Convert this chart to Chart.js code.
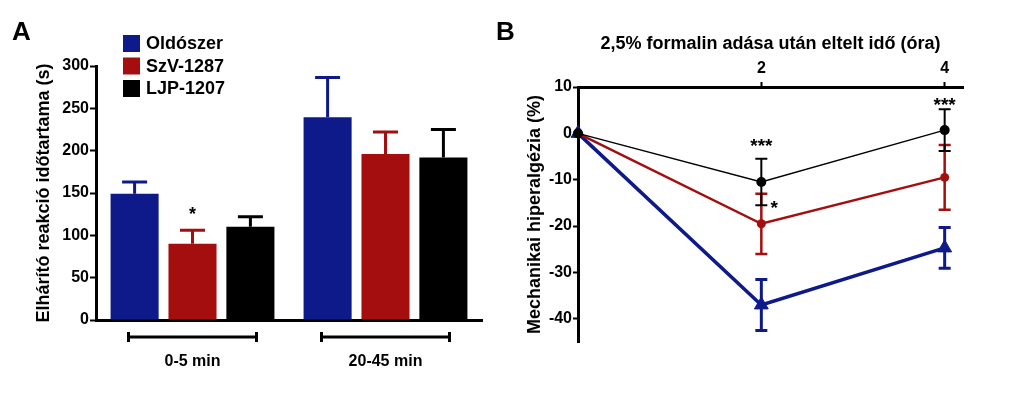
<!DOCTYPE html>
<html>
<head>
<meta charset="utf-8">
<script src="https://cdn.jsdelivr.net/npm/chart.js@4.4.1/dist/chart.umd.min.js"></script>
<style>
  html, body { margin: 0; padding: 0; background: #fff; }
  #wrap { position: relative; width: 1023px; height: 393px; }
  #chartA { position: absolute; left: 0; top: 0; }
  #chartB { position: absolute; left: 490px; top: 0; }
</style>
</head>
<body>
<div id="wrap">
  <canvas id="chartA" width="490" height="393"></canvas>
  <canvas id="chartB" width="533" height="393"></canvas>
</div>
<script>
// --- panel A: defensive reaction time (s), mean + SEM
const groupLabels = ["0-5 min", "20-45 min"];
const seriesNames = ["Oldószer", "SzV-1287", "LJP-1207"];
const seriesColors = ["#0e1a8a", "#a40e0e", "#000000"];
const oldoszerA = [149, 239.5];
const szvA = [90, 196];
const ljpA = [110, 192];
const oldoszerErrA = [14, 47];
const szvErrA = [16, 26];
const ljpErrA = [12, 33];
const oldoszerStarsA = ["", ""];
const szvStarsA = ["*", ""];
const ljpStarsA = ["", ""];
const yTicksA = [0, 50, 100, 150, 200, 250, 300];

// --- panel B: mechanical hyperalgesia (%) over time (h)
const hoursB = [0, 2, 4];
const oldoszerB = [0, -37, -24.7];
const szvB = [0, -19.5, -9.5];
const ljpB = [0, -10.5, 0.7];
const oldoszerErrB = [0, 5.5, 4.4];
const szvErrB = [0, 6.5, 7];
const ljpErrB = [0, 5, 4.5];
const xTicksB = [2, 4];
const yTicksB = [-40, -30, -20, -10, 0, 10];
const starsB = [
  { x: 2, y: -2.4, text: "***" },
  { x: 2.14, y: -15.6, text: "*" },
  { x: 4, y: 6.5, text: "***" }
];

const FONT = '"Liberation Sans", Arial, sans-serif';
Chart.defaults.font.family = FONT;
Chart.defaults.font.weight = "bold";
Chart.defaults.color = "#000";

const tickGrid = {
  display: true,
  drawOnChartArea: false,
  drawTicks: true,
  tickLength: 6,
  tickWidth: 2,
  tickColor: "#000"
};

// error bars (upward only), significance stars, brackets, legend, panel letter
const panelAExtras = {
  id: "panelAExtras",
  afterDatasetsDraw(chart) {
    const ctx = chart.ctx;
    const y = chart.scales.y;
    chart.data.datasets.forEach((ds, i) => {
      const meta = chart.getDatasetMeta(i);
      meta.data.forEach((bar, j) => {
        const top = y.getPixelForValue(ds.data[j] + ds.errors[j]);
        ctx.save();
        ctx.strokeStyle = ds.backgroundColor;
        ctx.lineWidth = 3;
        ctx.beginPath();
        ctx.moveTo(bar.x, bar.y);
        ctx.lineTo(bar.x, top);
        ctx.moveTo(bar.x - 12.5, top);
        ctx.lineTo(bar.x + 12.5, top);
        ctx.stroke();
        if (ds.stars[j]) {
          ctx.fillStyle = "#000";
          ctx.font = "bold 18px " + FONT;
          ctx.textAlign = "center";
          ctx.textBaseline = "alphabetic";
          ctx.fillText(ds.stars[j], bar.x, top - 10);
        }
        ctx.restore();
      });
    });
  },
  afterDraw(chart) {
    const ctx = chart.ctx;
    const x = chart.scales.x;
    const by = chart.chartArea.bottom + 17;
    ctx.save();
    ctx.strokeStyle = "#000";
    ctx.lineWidth = 3;
    groupLabels.forEach((_, j) => {
      const cx = x.getPixelForValue(j);
      ctx.beginPath();
      ctx.moveTo(cx - 64, by);
      ctx.lineTo(cx + 64, by);
      ctx.moveTo(cx - 64, by - 5);
      ctx.lineTo(cx - 64, by + 5);
      ctx.moveTo(cx + 64, by - 5);
      ctx.lineTo(cx + 64, by + 5);
      ctx.stroke();
    });
    // legend
    ctx.font = "bold 18px " + FONT;
    ctx.textBaseline = "middle";
    ctx.textAlign = "left";
    chart.data.datasets.forEach((ds, i) => {
      const cy = 43.5 + i * 22.5;
      ctx.fillStyle = ds.backgroundColor;
      ctx.fillRect(123, cy - 8.5, 17, 17);
      ctx.fillStyle = "#000";
      ctx.fillText(ds.label, 146, cy + 1);
    });
    ctx.font = "bold 26px " + FONT;
    ctx.textBaseline = "alphabetic";
    ctx.fillText("A", 12, 40);
    ctx.restore();
  }
};

new Chart(document.getElementById("chartA"), {
  type: "bar",
  data: {
    labels: groupLabels,
    datasets: [
      { label: seriesNames[0], data: oldoszerA, errors: oldoszerErrA, stars: oldoszerStarsA, backgroundColor: seriesColors[0] },
      { label: seriesNames[1], data: szvA, errors: szvErrA, stars: szvStarsA, backgroundColor: seriesColors[1] },
      { label: seriesNames[2], data: ljpA, errors: ljpErrA, stars: ljpStarsA, backgroundColor: seriesColors[2] }
    ]
  },
  options: {
    responsive: false,
    animation: false,
    categoryPercentage: 0.9,
    barPercentage: 0.83,
    layout: { padding: { left: 0, right: 8, top: 66, bottom: 0 } },
    plugins: { legend: { display: false }, tooltip: { enabled: false } },
    scales: {
      x: {
        afterFit: s => { s.height = 73; },
        border: { color: "#000", width: 3 },
        grid: { display: true, drawOnChartArea: false, drawTicks: false },
        ticks: { padding: 32, font: { size: 16, weight: "bold" }, color: "#000" }
      },
      y: {
        min: 0,
        max: 300,
        afterBuildTicks: s => { s.ticks = yTicksA.map(v => ({ value: v })); },
        afterFit: s => { s.width = 96; },
        border: { color: "#000", width: 3 },
        grid: tickGrid,
        ticks: { padding: 1, font: { size: 16, weight: "bold" }, color: "#000" },
        title: {
          display: true,
          text: "Elhárító reakció időtartama (s)",
          font: { size: 18, weight: "bold" },
          color: "#000",
          padding: { top: 33, bottom: 0 }
        }
      }
    }
  },
  plugins: [panelAExtras]
});

// error bars both ways, stars, panel letter
const panelBExtras = {
  id: "panelBExtras",
  afterDatasetsDraw(chart) {
    const ctx = chart.ctx;
    const xs = chart.scales.x, ys = chart.scales.y;
    ctx.save();
    chart.data.datasets.forEach(ds => {
      ctx.strokeStyle = ds.borderColor;
      ctx.lineWidth = ds.errWidth;
      ds.data.forEach((p, j) => {
        const e = ds.errors[j];
        if (!e) return;
        const px = xs.getPixelForValue(p.x);
        const hi = ys.getPixelForValue(p.y + e);
        const lo = ys.getPixelForValue(p.y - e);
        ctx.beginPath();
        ctx.moveTo(px, hi);
        ctx.lineTo(px, lo);
        ctx.moveTo(px - 6, hi);
        ctx.lineTo(px + 6, hi);
        ctx.moveTo(px - 6, lo);
        ctx.lineTo(px + 6, lo);
        ctx.stroke();
      });
    });
    ctx.fillStyle = "#000";
    ctx.font = "bold 19px " + FONT;
    ctx.textAlign = "center";
    ctx.textBaseline = "alphabetic";
    starsB.forEach(s => {
      ctx.fillText(s.text, xs.getPixelForValue(s.x), ys.getPixelForValue(s.y) + 8);
    });
    ctx.textAlign = "left";
    ctx.font = "bold 26px " + FONT;
    ctx.fillText("B", 6, 40);
    ctx.restore();
  }
};

const toPts = vals => hoursB.map((h, i) => ({ x: h, y: vals[i] }));

new Chart(document.getElementById("chartB"), {
  type: "line",
  data: {
    datasets: [
      {
        label: seriesNames[0], data: toPts(oldoszerB), errors: oldoszerErrB, errWidth: 3,
        borderColor: seriesColors[0], backgroundColor: seriesColors[0], borderWidth: 3.5,
        pointStyle: "triangle", pointRadius: 8, pointBorderWidth: 1, order: 2, clip: false
      },
      {
        label: seriesNames[1], data: toPts(szvB), errors: szvErrB, errWidth: 2.5,
        borderColor: seriesColors[1], backgroundColor: seriesColors[1], borderWidth: 2.5,
        pointStyle: "circle", pointRadius: 4.5, pointBorderWidth: 0, order: 1, clip: false
      },
      {
        label: seriesNames[2], data: toPts(ljpB), errors: ljpErrB, errWidth: 2,
        borderColor: seriesColors[2], backgroundColor: seriesColors[2], borderWidth: 1.5,
        pointStyle: "circle", pointRadius: 5, pointBorderWidth: 0, order: 0, clip: false
      }
    ]
  },
  options: {
    responsive: false,
    animation: false,
    layout: { padding: { left: 0, right: 60, top: 0, bottom: 51 } },
    plugins: { legend: { display: false }, tooltip: { enabled: false } },
    scales: {
      x: {
        type: "linear",
        position: "top",
        min: 0,
        max: 4.2,
        afterBuildTicks: s => { s.ticks = xTicksB.map(v => ({ value: v })); },
        afterFit: s => { s.height = 87; },
        border: { color: "#000", width: 3 },
        grid: { ...tickGrid, tickLength: 5 },
        ticks: { padding: 4, font: { size: 16, weight: "bold" }, color: "#000" },
        title: {
          display: true,
          text: "2,5% formalin adása után eltelt idő (óra)",
          font: { size: 18, weight: "bold" },
          color: "#000",
          padding: { top: 33, bottom: 0 }
        }
      },
      y: {
        min: -45,
        max: 10,
        afterBuildTicks: s => { s.ticks = yTicksB.map(v => ({ value: v })); },
        afterFit: s => { s.width = 88; },
        border: { color: "#000", width: 3 },
        grid: { ...tickGrid, tickLength: 5 },
        ticks: { padding: 1, font: { size: 16, weight: "bold" }, color: "#000" },
        title: {
          display: true,
          text: "Mechanikai hiperalgézia (%)",
          font: { size: 18, weight: "bold" },
          color: "#000",
          padding: { top: 34, bottom: 0 }
        }
      }
    }
  },
  plugins: [panelBExtras]
});
</script>
</body>
</html>
